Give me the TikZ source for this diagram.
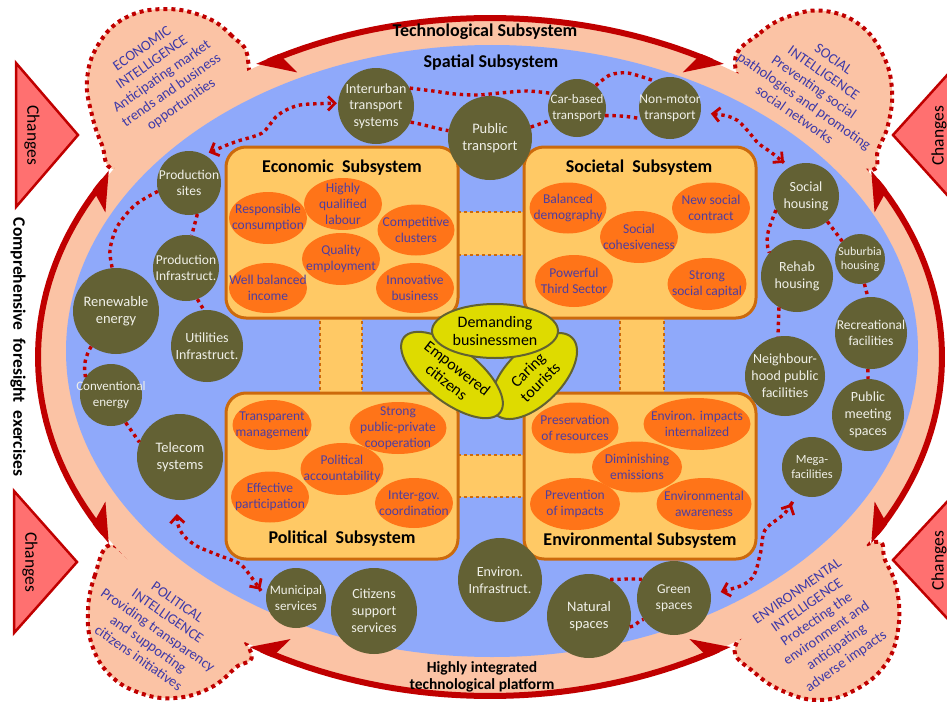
\documentclass[tikz,border=0pt]{standalone}
\usepackage{fontspec}
\setmainfont{Carlito}
\usetikzlibrary{arrows.meta,shapes.geometric}
\definecolor{dred}{RGB}{192,0,0}
\definecolor{salmon}{RGB}{251,195,165}
\definecolor{skyb}{RGB}{143,169,250}
\definecolor{boxfill}{RGB}{255,201,101}
\definecolor{boxline}{RGB}{204,106,12}
\definecolor{orfill}{RGB}{255,116,24}
\definecolor{ortext}{RGB}{78,62,160}
\definecolor{olive}{RGB}{99,97,52}
\definecolor{oltext}{RGB}{240,240,232}
\definecolor{yell}{RGB}{222,219,0}
\definecolor{yline}{RGB}{98,98,48}
\definecolor{chg}{RGB}{255,112,112}
\definecolor{inttext}{RGB}{62,58,168}
\tikzset{
  blob/.style={fill=salmon, draw=dred, line width=4pt, dash pattern=on 4pt off 4pt},
  ringarr/.style={draw=dred, line width=6pt, arrows={Stealth[harpoon,length=30pt,width=42pt,inset=8pt]-Stealth[harpoon,swap,length=30pt,width=42pt,inset=8pt]}},
  chgtri/.style={fill=chg, draw=dred, line width=2.5pt, line join=miter},
  chgtxt/.style={font=\fontsize{17.5}{18}\selectfont, text=black},
  inttxt/.style={font=\fontsize{14.5}{17}\selectfont, text=inttext, align=center},
  ttl/.style={font=\bfseries\fontsize{18}{19}\selectfont, text=black, align=center},
  subbox/.style={rectangle, rounded corners=20pt, fill=boxfill, draw=boxline, line width=3pt},
  bridge/.style={rectangle, fill=boxfill, inner sep=0},
  bdot/.style={draw=boxline, line width=2.5pt, dash pattern=on 3pt off 3pt},
  orel/.style={ellipse, fill=orfill, inner sep=0},
  ortxt/.style={font=\fontsize{13.5}{16}\selectfont, text=ortext, align=center, inner sep=0},
  olc/.style={circle, fill=olive, inner sep=0},
  oltxt/.style={text=oltext, align=center, inner sep=0},
  yel/.style={ellipse, fill=yell, draw=yline, line width=2pt, inner sep=0, font=\fontsize{16}{17.5}\selectfont, align=center},
  dotc/.style={draw=dred, line width=3.4pt, dash pattern=on 3.4pt off 3.8pt},
  arr/.style={dotc, arrows={Straight Barb[length=7pt,width=14pt,line width=2.8pt]-Straight Barb[length=7pt,width=14pt,line width=2.8pt]}}
}
\newcommand\myOE[5]{\node[orel, minimum width=#4pt, minimum height=#5pt] (#1) at (#2) {};
  \node[ortxt] (#1t) at (#1) {#3};}
\newcommand\myOC[5]{\node[olc, minimum size=#4pt] (#1) at (#2) {};
  \node[oltxt, font=\fontsize#5\selectfont] (#1t) at (#1) {#3};}
\begin{document}
\begin{tikzpicture}[x=1pt,y=-1pt]
\useasboundingbox (0,0) rectangle (947,701);
% intelligence blobs
\draw[blob] plot[smooth cycle, tension=0.7] coordinates {(248,60) (232,36) (205,17) (165,9) (125,18) (98,45) (87,80) (92,115) (102,145) (115,170) (170,165) (240,120)};
\draw[blob] plot[smooth cycle, tension=0.7] coordinates {(735,62) (760,33) (790,16) (825,11) (860,25) (883,55) (892,90) (888,125) (878,150) (872,170) (830,160) (760,110)};
\draw[blob] plot[smooth cycle, tension=0.7] coordinates {(110,545) (95,575) (88,610) (92,645) (110,675) (140,693) (175,698) (210,688) (235,668) (250,650) (200,590) (140,565)};
\draw[blob] plot[smooth cycle, tension=0.7] coordinates {(735,647) (755,673) (785,692) (820,700) (855,690) (885,665) (898,630) (897,590) (885,560) (875,542) (820,570) (770,610)};
% band
\fill[salmon] (490,357) ellipse [x radius=452pt, y radius=339pt];
\fill[skyb] (492,351) ellipse [x radius=426pt, y radius=306pt];
% ring arcs
\draw[ringarr] plot[domain=121:59, samples=40] ({490+452*cos(\x)},{357-339*sin(\x)});
\draw[ringarr] plot[domain=33:-33, samples=40] ({490+452*cos(\x)},{357-339*sin(\x)});
\draw[ringarr] plot[domain=302:238, samples=40] ({490+452*cos(\x)},{357-339*sin(\x)});
\draw[ringarr] plot[domain=213:147, samples=40] ({490+452*cos(\x)},{357-339*sin(\x)});
% changes
\draw[chgtri] (16,63) -- (78,135) -- (16,207) -- cycle;
\node[chgtxt, rotate=-90] (ch1) at (32,135) {Changes};
\draw[chgtri] (14,491) -- (77,562) -- (14,633) -- cycle;
\node[chgtxt, rotate=-90] (ch2) at (30,562) {Changes};
\draw[chgtri] (958,63) -- (893,135) -- (958,207) -- cycle;
\node[chgtxt, rotate=90] (ch3) at (939,136) {Changes};
\draw[chgtri] (958,490) -- (893,560) -- (958,630) -- cycle;
\node[chgtxt, rotate=90] (ch4) at (939,561) {Changes};
\node[ttl, rotate=-90, font=\bfseries\fontsize{17.5}{19}\selectfont] (cfe) at (18,347) {Comprehensive\ \ foresight\ \ exercises};
% intelligence texts
\node[inttxt, rotate=35] (eit) at (162,77) {ECONOMIC\\INTELLIGENCE\\Anticipating market\\trends and business\\opportunities};
\node[inttxt, rotate=-35] (sit) at (814,87) {SOCIAL\\INTELLIGENCE\\Preventing social\\pathologies and promoting\\social networks};
\node[inttxt, rotate=-35] (pit) at (158,630) {POLITICAL\\INTELLIGENCE\\Providing transparency\\and supporting\\citizens initiatives};
\node[inttxt, rotate=35] (nit) at (822,627) {ENVIRONMENTAL\\INTELLIGENCE\\Protecting the\\environment and\\anticipating\\adverse impacts};
% titles
\node[ttl] (tech) at (485,32) {Technological Subsystem};
\node[ttl] (spat) at (491,63) {Spatial Subsystem};
\node[ttl, font=\bfseries\fontsize{15.5}{17}\selectfont] (plat) at (482,677) {Highly integrated\\technological platform};
% bridges
\node[bridge, minimum width=66pt, minimum height=43pt] (bt) at (491,233.5) {};
\draw[bdot] (bt.north west) -- (bt.north east) (bt.south west) -- (bt.south east);
\node[bridge, minimum width=66pt, minimum height=42pt] (bb) at (491,476) {};
\draw[bdot] (bb.north west) -- (bb.north east) (bb.south west) -- (bb.south east);
\node[bridge, minimum width=42pt, minimum height=80pt] (bl) at (341,355) {};
\draw[bdot] (bl.north west) -- (bl.south west) (bl.north east) -- (bl.south east);
\node[bridge, minimum width=44pt, minimum height=80pt] (br) at (642,355) {};
\draw[bdot] (br.north west) -- (br.south west) (br.north east) -- (br.south east);
% boxes
\node[subbox, minimum width=232pt, minimum height=171pt] (eco) at (342,232.5) {};
\node[subbox, minimum width=232pt, minimum height=171pt] (soc) at (640,232.5) {};
\node[subbox, minimum width=232pt, minimum height=166pt] (pol) at (342,476) {};
\node[subbox, minimum width=232pt, minimum height=166pt] (env) at (640,476) {};
\node[ttl] (ecot) at (342,168) {Economic\ \ Subsystem};
\node[ttl] (soct) at (639,168) {Societal\ \ Subsystem};
\node[ttl] (polt) at (342,539) {Political\ \ Subsystem};
\node[ttl] (envt) at (640,541) {Environmental Subsystem};
% orange ellipses
\myOE{e1}{268,218}{Responsible\\consumption}{78}{52}
\myOE{e2}{343,204}{Highly\\qualified\\labour}{78}{52}
\myOE{e3}{416,230}{Competitive\\clusters}{77}{51}
\myOE{e4}{341,259}{Quality\\employment}{78}{52}
\myOE{e5}{268,288}{Well balanced\\income}{78}{50}
\myOE{e6}{415,288}{Innovative\\business}{78}{50}
\myOE{s1}{568,208}{Balanced\\demography}{77}{51}
\myOE{s2}{711,208}{New social\\contract}{78}{51}
\myOE{s3}{639,237}{Social\\cohesiveness}{78}{52}
\myOE{s4}{574,281}{Powerful\\Third Sector}{78}{52}
\myOE{s5}{707,284}{Strong\\social capital}{79}{52}
\myOE{p1}{272,425}{Transparent\\management}{79}{50}
\myOE{p2}{398,428}{Strong\\public-private\\cooperation}{97}{52}
\myOE{p3}{342,469}{Political\\accountability}{83}{52}
\myOE{p4}{270,497}{Effective\\participation}{78}{51}
\myOE{p5}{414,503}{Inter-gov.\\coordination}{78}{50}
\myOE{v1}{575,428}{Preservation\\of resources}{87}{51}
\myOE{v2}{697,424}{Environ. impacts\\internalized}{107}{52}
\myOE{v3}{637,467}{Diminishing\\emissions}{90}{51}
\myOE{v4}{575,504}{Prevention\\of impacts}{90}{52}
\myOE{v5}{704,504}{Environmental\\awareness}{95}{52}
% central ellipses
\node[yel, minimum width=108pt, minimum height=56pt, rotate=45] (car) at (534,376) {Caring\\tourists};
\node[yel, minimum width=122pt, minimum height=54pt, rotate=-38] (emp) at (452,375) {Empowered\\citizens};
\node[yel, minimum width=126pt, minimum height=54pt] (dem) at (495,331) {Demanding\\businessmen};
% circles
\myOC{iu}{376,106}{Interurban\\transport\\systems}{76}{{14}{16.5}}
\myOC{pt}{490,138}{Public\\transport}{84}{{14.5}{17.5}}
\myOC{cb}{577,108}{Car-based\\transport}{58}{{13}{15.5}}
\myOC{nm}{670,108}{Non-motor\\transport}{62}{{13.5}{16}}
\myOC{ps}{189,183}{Production\\sites}{64}{{13.5}{16}}
\myOC{pi}{186,268}{Production\\Infrastruct.}{66}{{13.5}{16}}
\myOC{ut}{207,346}{Utilities\\Infrastruct.}{72}{{14}{16.5}}
\myOC{re}{116,311}{Renewable\\energy}{86}{{14.5}{17.5}}
\myOC{co}{111,395}{Conventional\\energy}{62}{{13}{16}}
\myOC{te}{180,457}{Telecom\\systems}{86}{{14.5}{17}}
\myOC{sh}{806,196}{Social\\housing}{66}{{14}{17}}
\myOC{rh}{797,276}{Rehab\\housing}{72}{{14}{17}}
\myOC{sb}{860,259}{Suburbia\\housing}{50}{{12}{14}}
\myOC{rc}{871,333}{Recreational\\facilities}{72}{{13.5}{16.5}}
\myOC{nh}{785,376}{Neighbour-\\hood public\\facilities}{80}{{14}{17}}
\myOC{pm}{868,415}{Public\\meeting\\spaces}{72}{{14}{17}}
\myOC{mf}{812,467}{Mega-\\facilities}{60}{{12.5}{15}}
\myOC{ms}{296,598}{Municipal\\services}{60}{{13}{16}}
\myOC{cs}{374,611}{Citizens\\support\\services}{86}{{14}{17}}
\myOC{ei}{500,580}{Environ.\\Infrastruct.}{84}{{14}{17}}
\myOC{ns}{589,616}{Natural\\spaces}{84}{{14.5}{17.5}}
\myOC{gs}{674,598}{Green\\spaces}{74}{{13.5}{16.5}}
% dotted connectors
\draw[arr, shorten <=5pt, shorten >=1pt] plot[smooth] coordinates {(ps.62) (235,142) (262,133) (278,115) (300,105) (iu.176)};
\draw[dotc] (iu.-25) to[out=-10,in=170] (pt.170);
\draw[dotc] plot[smooth] coordinates {(iu.28) (433,91) (455,94) (478,95) (500,93) (527,91) (cb.150)};
\draw[dotc] (pt.15) to[out=20,in=-160] (cb.-155);
\draw[dotc] plot[smooth] coordinates {(cb.50) (610,75) (628,73) (nm.120)};
\draw[dotc] (cb.-15) to[out=0,in=170] (nm.-160);
\draw[arr, shorten <=10pt, shorten >=7pt] plot[smooth] coordinates {(nm.-8) (733,118) (747,130) (758,143) (772,153) (sh.120)};
\draw[dotc] plot[smooth] coordinates {(ps.195) (135,205) (117,227) (110,250) (re.95)};
\draw[dotc] (ps.-75) -- (pi.80);
\draw[dotc] (pi.-70) -- (ut.95);
\draw[dotc] (re.235) to[out=240,in=100] (co.145);
\draw[dotc] (co.-62) -- (te.160);
\draw[arr, shorten <=14pt, shorten >=10pt] plot[smooth] coordinates {(te.-95) (180,530) (195,545) (218,555) (240,564) (252,578) (ms.180)};
\draw[dotc] (ns.60) to[out=0,in=175] (gs.150);
\draw[dotc] (ns.-15) to[out=0,in=-170] (gs.-145);
\draw[arr, shorten <=10pt, shorten >=12pt] plot[smooth] coordinates {(gs.5) (750,580) (760,555) (765,530) (785,513) (mf.-120)};
\draw[dotc] (sh.205) to[out=250,in=110] (rh.140);
\draw[dotc] (rh.-120) -- (nh.100);
\draw[dotc] (sh.-50) -- (sb.135);
\draw[dotc] (sb.-80) -- (rc.95);
\draw[dotc] (rc.-95) -- (pm.90);
\end{tikzpicture}
\end{document}
